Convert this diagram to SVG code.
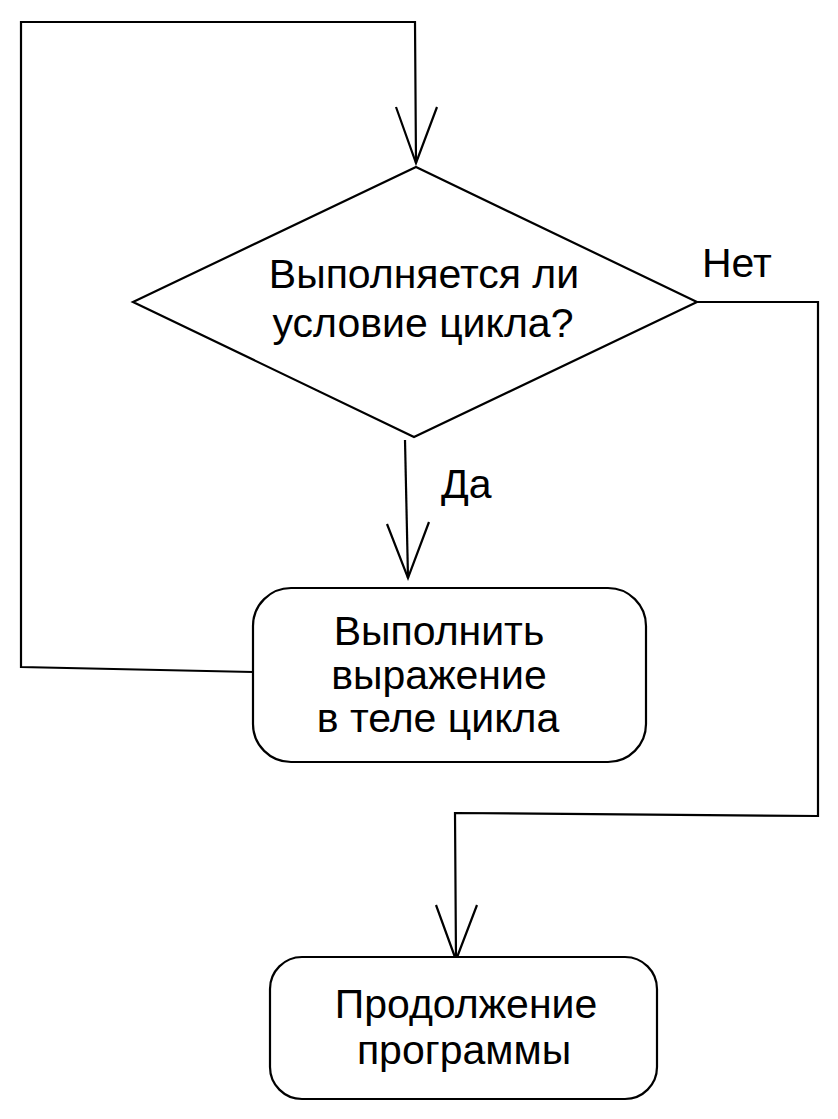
<svg xmlns="http://www.w3.org/2000/svg" width="838" height="1119" viewBox="0 0 838 1119">
<style>
.s{fill:none;stroke:#000;stroke-width:2.2;stroke-linejoin:miter}
.n{fill:#fff;stroke:#000;stroke-width:2.2}
.t{font-family:"Liberation Sans",Arial,sans-serif;font-size:41px;fill:#000;text-anchor:middle}
.l{font-family:"Liberation Sans",Arial,sans-serif;font-size:41px;fill:#000}
</style>
<rect width="838" height="1119" fill="#fff"/>
<g id="connectors">
<polyline class="s" points="253,672 21,667 21,22 415,22 416,163"/>
<polyline class="s" points="396,107 416,163 437,107"/>
<polyline class="s" points="405,440 408,578"/>
<polyline class="s" points="387,524 408,578 429,522"/>
<polyline class="s" points="697,302 818,302 818,816 455,813 456,960"/>
<polyline class="s" points="436,905 456,960 477,905"/>
<text class="l" x="702" y="277">Нет</text>
<text class="l" x="441" y="498">Да</text>
</g>
<g id="decision">
<polygon class="n" points="416,167 697,302 414,437 133,302"/>
<text class="t" x="424" y="288">Выполняется ли</text>
<text class="t" x="423" y="337">условие цикла?</text>
</g>
<g id="body">
<rect class="n" x="253" y="588" width="393" height="174" rx="38" ry="38"/>
<text class="t" x="439" y="645">Выполнить</text>
<text class="t" x="439" y="689">выражение</text>
<text class="t" x="438" y="732">в теле цикла</text>
</g>
<g id="continue">
<rect class="n" x="270" y="957" width="387" height="142" rx="32" ry="32"/>
<text class="t" x="466" y="1018">Продолжение</text>
<text class="t" x="464" y="1064">программы</text>
</g>
</svg>
